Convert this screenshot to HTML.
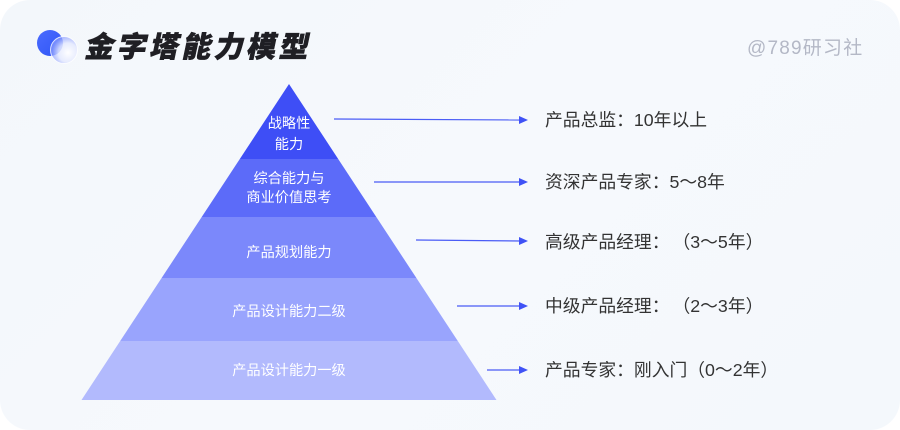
<!DOCTYPE html>
<html><head><meta charset="utf-8">
<style>
html,body{margin:0;padding:0;background:#fff;}
body{width:900px;height:430px;overflow:hidden;position:relative;font-family:"Liberation Sans","Noto Sans CJK SC",sans-serif;}
.card{position:absolute;left:0;top:0;width:900px;height:430px;border-radius:30px;background:linear-gradient(135deg,#f3f7fb 0%,#f6f9fd 50%,#f4f8fc 100%);}
svg text{text-spacing-trim:space-all;}
</style></head>
<body>
<div class="card"></div>
<svg width="900" height="430" viewBox="0 0 900 430" style="position:absolute;left:0;top:0" xmlns="http://www.w3.org/2000/svg">
  <defs>
    <radialGradient id="glass" cx="0.65" cy="0.6" r="0.6">
      <stop offset="0" stop-color="#ffffff" stop-opacity="0.95"/>
      <stop offset="0.6" stop-color="#e4e9ff" stop-opacity="0.85"/>
      <stop offset="1" stop-color="#8fa0ff" stop-opacity="0.7"/>
    </radialGradient>
    <linearGradient id="blue" x1="0" y1="0" x2="1" y2="1">
      <stop offset="0" stop-color="#4a6bff"/>
      <stop offset="1" stop-color="#2f55f5"/>
    </linearGradient>
  </defs>
  <!-- icon -->
  <circle cx="50" cy="43" r="13" fill="url(#blue)"/>
  <circle cx="64" cy="50" r="13.5" fill="url(#glass)" stroke="#ffffff" stroke-opacity="0.8" stroke-width="1"/>
  <!-- title -->
  <text x="84" y="57" font-family="'Noto Sans CJK SC',sans-serif" font-weight="900" font-size="29" letter-spacing="3.4" fill="#1f1f24" stroke="#1f1f24" stroke-width="0.6" style="transform:skewX(-12deg);transform-origin:84px 57px">金字塔能力模型</text>
  <!-- watermark -->
  <text x="747" y="54" font-family="'Liberation Sans','Noto Sans CJK SC',sans-serif" font-size="19" letter-spacing="1.2" fill="#b4b8c6">@789研习社</text>

  <!-- pyramid layers -->
  <polygon points="289,84 338.2,159 239.8,159" fill="#3e4ef6"/>
  <polygon points="239.8,159 338.2,159 376.3,217 201.7,217" fill="#5c6bf9"/>
  <polygon points="201.7,217 376.3,217 416.4,278 161.6,278" fill="#7b88fb"/>
  <polygon points="161.6,278 416.4,278 457.8,341 120.2,341" fill="#99a4fd"/>
  <polygon points="120.2,341 457.8,341 496.5,400 81.5,400" fill="#b2bafd"/>

  <g font-family="'Liberation Sans','Noto Sans CJK SC',sans-serif" font-size="14.2" fill="#ffffff" text-anchor="middle">
    <text x="289" y="128">战略性</text>
    <text x="289" y="149">能力</text>
    <text x="289" y="183">综合能力与</text>
    <text x="289" y="202">商业价值思考</text>
    <text x="289" y="257">产品规划能力</text>
    <text x="289" y="316">产品设计能力二级</text>
    <text x="289" y="375">产品设计能力一级</text>
  </g>

  <!-- arrows -->
  <g stroke="#4a5cf6" stroke-width="1.2" fill="none">
    <line x1="334" y1="119" x2="521" y2="120"/>
    <line x1="374" y1="182" x2="521" y2="182"/>
    <line x1="416" y1="240" x2="521" y2="241"/>
    <line x1="457" y1="306" x2="521" y2="306"/>
    <line x1="487" y1="370" x2="521" y2="370"/>
  </g>
  <g fill="#3f52f6">
    <polygon points="528,120 519,116 519,124"/>
    <polygon points="528,182 519,178 519,186"/>
    <polygon points="528,241 519,237 519,245"/>
    <polygon points="528,306 519,302 519,310"/>
    <polygon points="528,370 519,366 519,374"/>
  </g>

  <!-- labels -->
  <g font-family="'Liberation Sans','Noto Sans CJK SC',sans-serif" font-size="17.8" fill="#333333">
    <text x="545" y="126">产品总监：10年以上</text>
    <text x="545" y="188">资深产品专家：5～8年</text>
    <text x="545" y="248">高级产品经理：<tspan dx="3">（3～5年）</tspan></text>
    <text x="545" y="312">中级产品经理：<tspan dx="3">（2～3年）</tspan></text>
    <text x="545" y="376">产品专家：刚入门（0～2年）</text>
  </g>
</svg>
</body></html>
